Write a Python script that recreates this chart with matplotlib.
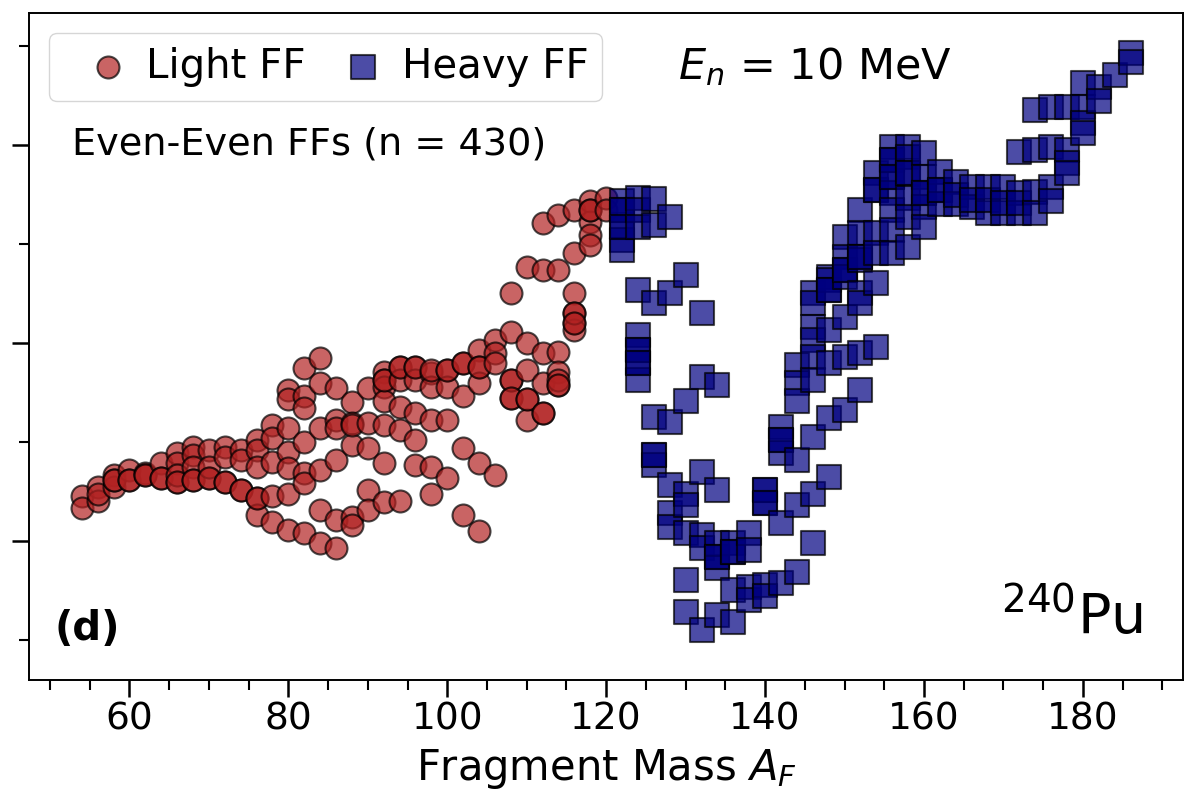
import matplotlib
matplotlib.use("Agg")
import matplotlib.pyplot as plt
from matplotlib.ticker import MultipleLocator

# light fragments: mass number and value (one entry per fragment)
light_A = [54, 54,
           56, 56, 56,
           58, 58, 58, 58,
           60, 60, 60,
           62, 62, 62,
           64, 64, 64,
           66, 66, 66, 66, 66,
           68, 68, 68, 68, 68,
           70, 70, 70, 70,
           72, 72, 72, 72,
           74, 74, 74, 74,
           76, 76, 76, 76, 76, 76,
           78, 78, 78, 78, 78,
           80, 80, 80, 80, 80, 80, 80,
           82, 82, 82, 82, 82, 82, 82,
           84, 84, 84, 84, 84, 84,
           86, 86, 86, 86, 86, 86,
           88, 88, 88, 88, 88, 88,
           90, 90, 90, 90, 90,
           92, 92, 92, 92, 92, 92, 92, 92,
           94, 94, 94, 94, 94, 94,
           96, 96, 96, 96, 96, 96,
           98, 98, 98, 98, 98, 98,
           100, 100, 100, 100, 100,
           102, 102, 102, 102, 102,
           104, 104, 104, 104, 104, 104,
           106, 106, 106, 106,
           108, 108, 108, 108, 108, 108,
           110, 110, 110, 110, 110, 110,
           112, 112, 112, 112, 112, 112,
           114, 114, 114, 114, 114, 114, 114,
           116, 116, 116, 116, 116, 116, 116, 116,
           118, 118, 118, 118, 118, 118,
           120, 120]
light_y = [2.46, 2.33,
           2.55, 2.41, 2.48,
           2.67, 2.55, 2.62, 2.62,
           2.72, 2.62, 2.62,
           2.69, 2.67, 2.67,
           2.79, 2.64, 2.64,
           2.89, 2.79, 2.60, 2.67, 2.60,
           2.95, 2.87, 2.75, 2.62, 2.62,
           2.92, 2.64, 2.75, 2.64,
           2.95, 2.85, 2.60, 2.60,
           2.92, 2.82, 2.52, 2.52,
           3.02, 2.92, 2.75, 2.44, 2.26, 2.44,
           3.17, 3.04, 2.80, 2.46, 2.19,
           3.53, 3.44, 3.14, 2.90, 2.74, 2.48, 2.11,
           3.75, 3.47, 3.34, 3.00, 2.69, 2.59, 2.08,
           3.85, 3.60, 3.14, 2.72, 2.31, 1.98,
           3.55, 3.22, 2.82, 2.21, 1.93, 3.14,
           3.40, 3.19, 2.97, 2.24, 2.16, 3.17,
           3.55, 3.19, 2.94, 2.52, 2.31,
           3.71, 3.63, 3.56, 3.42, 3.17, 2.79, 2.39, 3.63,
           3.76, 3.63, 3.35, 3.12, 2.41, 3.76,
           3.76, 3.63, 3.29, 3.02, 2.77, 3.76,
           3.70, 3.56, 3.22, 2.75, 2.48, 3.73,
           3.73, 3.56, 3.22, 2.64, 3.73,
           3.80, 3.47, 2.94, 2.26, 3.80,
           3.93, 3.76, 3.60, 2.79, 2.10, 3.76,
           4.03, 3.90, 3.80, 2.67,
           4.51, 4.11, 3.63, 3.45, 3.63, 3.45,
           4.77, 4.00, 3.73, 3.44, 3.22, 3.44,
           5.21, 4.74, 3.90, 3.60, 3.29, 3.29,
           5.29, 4.74, 3.91, 3.71, 3.58, 3.63, 3.58,
           5.34, 4.91, 4.51, 4.30, 4.20, 4.13, 4.30, 4.20,
           5.44, 5.22, 5.09, 4.99, 5.34, 5.34,
           5.47, 5.34]

# heavy fragments
heavy_A = [122, 122, 122, 122, 122, 122, 122,
           124, 124, 124, 124, 124, 124, 124, 124, 124, 124,
           126, 126, 126, 126, 126, 126, 126,
           128, 128, 128, 128, 128, 128,
           130, 130, 130, 130, 130, 130, 130,
           132, 132, 132, 132, 132, 132,
           134, 134, 134, 134, 134, 134, 134,
           136, 136, 136, 136, 136,
           138, 138, 138, 138,
           140, 140, 140, 140, 140, 140,
           142, 142, 142, 142, 142, 142,
           144, 144, 144, 144, 144, 144,
           146, 146, 146, 146, 146, 146, 146, 146, 146,
           148, 148, 148, 148, 148, 148, 148, 148,
           150, 150, 150, 150, 150, 150, 150, 150,
           152, 152, 152, 152, 152, 152, 152, 152, 152,
           154, 154, 154, 154, 154, 154, 154,
           156, 156, 156, 156, 156, 156, 156, 156, 156,
           158, 158, 158, 158, 158, 158, 158,
           160, 160, 160, 160, 160, 160,
           162, 162, 162, 162,
           164, 164, 164,
           166, 166, 166,
           168, 168, 168,
           170, 170, 170,
           172, 172, 172, 172,
           174, 174, 174, 174,
           176, 176, 176, 176,
           178, 178, 178, 178,
           180, 180, 180, 180,
           182, 182,
           184,
           186, 186]
heavy_y = [5.44, 5.34, 5.17, 5.04, 4.94, 5.34, 5.17,
           5.47, 5.34, 5.17, 4.54, 4.08, 3.93, 3.80, 3.63, 3.93, 3.80,
           5.46, 5.19, 4.40, 3.25, 2.87, 2.77, 2.87,
           5.27, 4.51, 3.20, 2.57, 2.28, 2.14,
           4.69, 3.42, 2.48, 2.36, 2.08, 1.61, 1.28,
           4.30, 3.66, 2.70, 2.06, 1.93, 1.10,
           3.58, 2.52, 1.98, 1.84, 1.73, 1.25, 1.84,
           1.98, 1.89, 1.51, 1.18, 1.89,
           2.08, 1.91, 1.54, 1.40,
           2.52, 2.38, 1.56, 1.45, 2.52, 2.38,
           3.15, 3.02, 2.89, 2.18, 1.58, 3.02,
           3.78, 3.60, 3.42, 2.82, 2.36, 1.69,
           4.51, 4.41, 4.16, 4.03, 3.86, 3.63, 3.05, 2.48, 1.98,
           4.67, 4.64, 4.54, 4.13, 3.80, 3.24, 2.65, 4.54,
           5.07, 4.87, 4.74, 4.67, 4.26, 3.86, 3.32, 4.74,
           5.34, 5.11, 4.87, 4.84, 4.51, 4.40, 3.90, 3.53, 4.87,
           5.72, 5.55, 5.11, 4.91, 4.61, 3.96, 5.55,
           5.98, 5.85, 5.68, 5.52, 5.34, 5.14, 4.91, 5.85, 5.68,
           5.98, 5.88, 5.72, 5.47, 5.27, 4.97, 5.72,
           5.92, 5.68, 5.52, 5.37, 5.17, 5.52,
           5.73, 5.55, 5.41, 5.55,
           5.63, 5.41, 5.50,
           5.58, 5.37, 5.45,
           5.58, 5.31, 5.45,
           5.58, 5.31, 5.42,
           5.93, 5.52, 5.31, 5.42,
           6.35, 5.95, 5.53, 5.31,
           6.38, 5.98, 5.58, 5.44,
           6.38, 5.95, 5.82, 5.72,
           6.63, 6.38, 6.22, 6.12,
           6.59, 6.45,
           6.71,
           6.93, 6.84]

fig = plt.figure(figsize=(11.95, 8.02), dpi=100)
ax = fig.add_axes([0.0245, 0.152, 0.9655, 0.832])

ax.scatter(light_A, light_y, s=250, marker='o', c='firebrick', edgecolors='k',
           linewidths=1.5, alpha=0.7, label='Light FF')
ax.scatter(heavy_A, heavy_y, s=280, marker='s', c='navy', edgecolors='k',
           linewidths=1.5, alpha=0.7, label='Heavy FF')

ax.set_xlim(47.4, 192.6)
ax.set_ylim(0.596, 7.336)

ax.xaxis.set_major_locator(MultipleLocator(20))
ax.xaxis.set_minor_locator(MultipleLocator(5))
ax.yaxis.set_major_locator(MultipleLocator(2))
ax.yaxis.set_minor_locator(MultipleLocator(1))
ax.tick_params(which='major', length=12, width=1.8, labelsize=27)
ax.tick_params(which='minor', length=7, width=1.5)
ax.tick_params(axis='y', labelleft=False)
for sp in ax.spines.values():
    sp.set_linewidth(1.4)

ax.set_xlabel('Fragment Mass $A_F$', fontsize=30, labelpad=7)

ax.legend(loc='upper left', ncol=2, fontsize=29, borderpad=0.35,
          handlelength=2.2, handletextpad=-0.15, columnspacing=0.33)

ax.text(0.037, 0.802, 'Even-Even FFs (n = 430)', transform=ax.transAxes,
        fontsize=27.5, va='center', ha='left')
ax.text(0.562, 0.901, r'$E_n$ = 10 MeV', transform=ax.transAxes,
        fontsize=31, va='baseline', ha='left')
ax.text(0.022, 0.06, '(d)', transform=ax.transAxes, fontsize=29,
        fontweight='bold', va='baseline', ha='left')
ax.text(0.965, 0.069, r'$^{240}$Pu', transform=ax.transAxes, fontsize=40,
        va='baseline', ha='right')

fig.savefig('out.png', dpi=100)
